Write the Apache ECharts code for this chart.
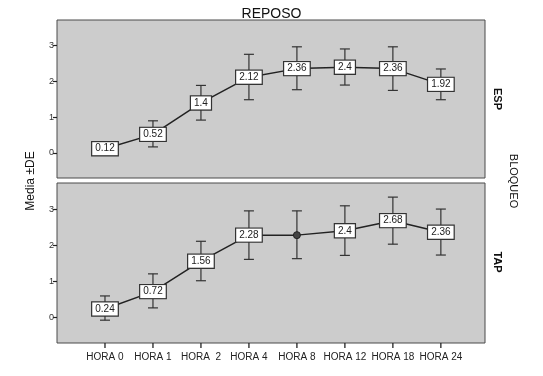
<!DOCTYPE html>
<html>
<head>
<meta charset="utf-8">
<script src="https://cdn.jsdelivr.net/npm/echarts@6/dist/echarts.min.js"></script>
<style>
  html, body { margin: 0; padding: 0; background: #fff; }
  #chart { width: 543px; height: 376px; }
</style>
</head>
<body>
<div id="chart"></div>
<script>
// categorias del eje x
const categorias = ['HORA 0', 'HORA 1', 'HORA  2', 'HORA 4', 'HORA 8', 'HORA 12', 'HORA 18', 'HORA 24'];
const posX = [0, 1, 2, 3, 4, 5, 6, 7];
const ticksY = [0, 1, 2, 3];
const yMin = -0.7;
const yMax = 3.72;

// ESP: media, limite superior e inferior (media ± DE)
const espMedia = [0.12, 0.52, 1.4, 2.12, 2.36, 2.4, 2.36, 1.92];
const espSup = [0.12, 0.90, 1.89, 2.76, 2.97, 2.91, 2.97, 2.35];
const espInf = [0.12, 0.17, 0.92, 1.49, 1.77, 1.90, 1.75, 1.49];

// TAP
const tapMedia = [0.24, 0.72, 1.56, 2.28, 2.28, 2.4, 2.68, 2.36];
const tapSup = [0.60, 1.21, 2.11, 2.95, 2.95, 3.09, 3.33, 3.00];
const tapInf = [-0.07, 0.27, 1.02, 1.61, 1.63, 1.72, 2.03, 1.73];
const tapSinEtiqueta = [4];

const chart = echarts.init(document.getElementById('chart'));
const fuente = 'Liberation Sans, Arial, sans-serif';

function barrasError(gridIdx, sup, inf) {
  return {
    type: 'custom',
    xAxisIndex: gridIdx,
    yAxisIndex: gridIdx,
    z: 2,
    silent: true,
    data: sup.map((s, i) => [i, s, inf[i]]),
    renderItem: function (params, api) {
      const top = api.coord([api.value(0), api.value(1)]);
      const bot = api.coord([api.value(0), api.value(2)]);
      const w = 5;
      const st = { stroke: '#333', lineWidth: 1.2 };
      return {
        type: 'group',
        children: [
          { type: 'line', shape: { x1: top[0], y1: top[1], x2: bot[0], y2: bot[1] }, style: st },
          { type: 'line', shape: { x1: top[0] - w, y1: top[1], x2: top[0] + w, y2: top[1] }, style: st },
          { type: 'line', shape: { x1: bot[0] - w, y1: bot[1], x2: bot[0] + w, y2: bot[1] }, style: st }
        ]
      };
    }
  };
}

function lineaMedia(gridIdx, medias, sinEtiqueta) {
  return {
    type: 'line',
    xAxisIndex: gridIdx,
    yAxisIndex: gridIdx,
    z: 3,
    symbol: 'circle',
    symbolSize: 0,
    itemStyle: { color: '#444', borderColor: '#222', borderWidth: 1 },
    lineStyle: { color: '#222', width: 1.5 },
    label: {
      show: true,
      position: 'inside',
      color: '#222',
      fontSize: 10,
      fontFamily: fuente,
      backgroundColor: '#fff',
      borderColor: '#333',
      borderWidth: 1.2,
      padding: [2, 3, 1, 3]
    },
    data: medias.map((v, i) => {
      if (sinEtiqueta.indexOf(i) >= 0) {
        return { value: [i, v], symbolSize: 7, label: { show: false } };
      }
      return { value: [i, v] };
    })
  };
}

function ejeX(gridIdx, conEtiquetas) {
  return {
    type: 'value',
    gridIndex: gridIdx,
    position: 'bottom',
    min: -1,
    max: 7.92,
    interval: 1,
    splitLine: { show: false },
    axisLine: { show: false, onZero: false },
    axisTick: { show: false },
    axisLabel: {
      show: conEtiquetas,
      showMinLabel: false,
      formatter: v => categorias[v] || '',
      color: '#222',
      fontSize: 10,
      fontFamily: fuente,
      margin: 9
    }
  };
}

function ejeY(gridIdx) {
  return {
    type: 'value',
    gridIndex: gridIdx,
    position: 'left',
    min: yMin,
    max: yMax,
    splitLine: { show: false },
    axisLine: { show: false, onZero: false },
    axisTick: { show: true, inside: false, customValues: ticksY, length: 4, lineStyle: { color: '#222', width: 1.2 } },
    axisLabel: { customValues: ticksY, color: '#333', fontSize: 9, fontFamily: fuente, margin: 3 }
  };
}

const textos = [
  { type: 'text', x: 31, y: 181, rotation: Math.PI / 2,
    style: { text: 'Media ±DE', fontSize: 12, fontFamily: fuente, fill: '#111', align: 'center', verticalAlign: 'middle' } },
  { type: 'text', x: 513, y: 181, rotation: -Math.PI / 2,
    style: { text: 'BLOQUEO', fontSize: 11, fontFamily: fuente, fill: '#111', align: 'center', verticalAlign: 'middle' } },
  { type: 'text', x: 497, y: 99, rotation: -Math.PI / 2,
    style: { text: 'ESP', fontSize: 11, fontWeight: 'bold', fontFamily: fuente, fill: '#111', align: 'center', verticalAlign: 'middle' } },
  { type: 'text', x: 497, y: 262, rotation: -Math.PI / 2,
    style: { text: 'TAP', fontSize: 11, fontWeight: 'bold', fontFamily: fuente, fill: '#111', align: 'center', verticalAlign: 'middle' } }
];

const option = {
  animation: false,
  backgroundColor: '#fff',
  title: {
    text: 'REPOSO',
    left: 'center',
    top: 2,
    textStyle: { fontSize: 14, fontWeight: 'normal', color: '#111', fontFamily: fuente }
  },
  grid: [
    { left: 57, top: 20, width: 428, height: 158, show: true, backgroundColor: '#cccccc', borderColor: '#4a4a4a', borderWidth: 1 },
    { left: 57, top: 183, width: 428, height: 160, show: true, backgroundColor: '#cccccc', borderColor: '#4a4a4a', borderWidth: 1 }
  ],
  xAxis: [ejeX(0, false), ejeX(1, true)],
  yAxis: [ejeY(0), ejeY(1)],
  graphic: textos,
  series: [
    barrasError(0, espSup, espInf),
    lineaMedia(0, espMedia, []),
    barrasError(1, tapSup, tapInf),
    lineaMedia(1, tapMedia, tapSinEtiqueta)
  ]
};

chart.setOption(option);

// marcas del eje x bajo el panel inferior, ubicadas con la escala del grafico
const marcas = posX.map(i => {
  const p = chart.convertToPixel({ gridIndex: 1 }, [i, yMin]);
  return {
    type: 'line',
    z: 100,
    silent: true,
    shape: { x1: p[0], y1: p[1], x2: p[0], y2: p[1] + 5 },
    style: { stroke: '#222', lineWidth: 1.3 }
  };
});
chart.setOption({ graphic: textos.concat(marcas) });
</script>
</body>
</html>
